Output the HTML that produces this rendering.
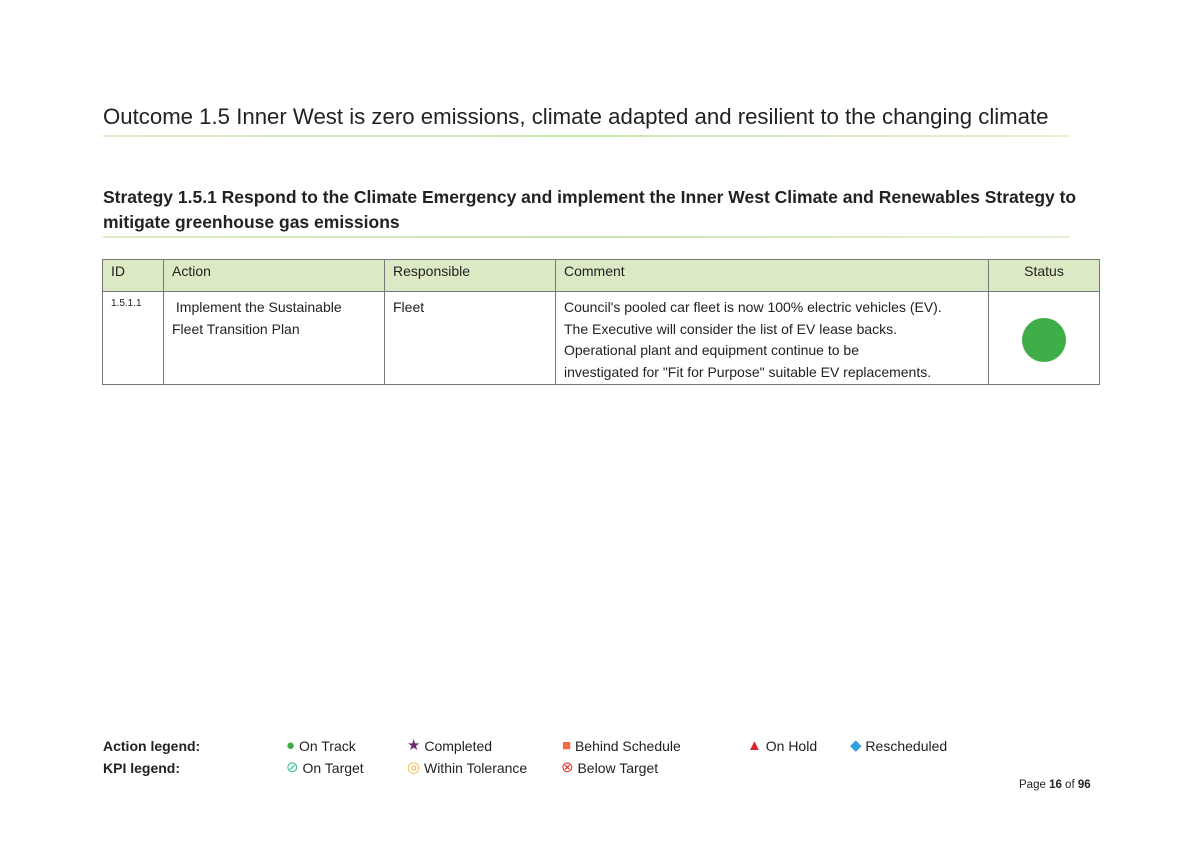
<!DOCTYPE html>
<html><head><style>
body{margin:0;width:1194px;height:844px;background:#fff;font-family:"Liberation Sans",sans-serif;color:#222;position:relative;overflow:hidden}
.a{position:absolute;white-space:nowrap}
.h1{left:103px;top:104px;font-size:22.2px}
.line{position:absolute;height:2px;background:linear-gradient(90deg,#dbeccb,#c9e4ae,#e4f1d7)}
.h2{left:103px;top:185px;font-size:17.5px;font-weight:bold;line-height:25px}
table{position:absolute;left:102px;top:259px;border-collapse:collapse;font-size:14px;table-layout:fixed;width:997px}
td{border:1px solid #777;vertical-align:top;padding:3px 8px}
tr.hd td{background:#dbe9c5;height:25px}
tr.bd td{height:77px;line-height:21.5px;padding-top:5px;padding-bottom:1px}
.lg{font-size:14px;line-height:18px}
.lg span{font-size:15px;line-height:18px;display:inline-block;vertical-align:top}
</style></head><body>
<div class="a h1">Outcome 1.5 Inner West is zero emissions, climate adapted and resilient to the changing climate</div>
<div class="line" style="left:103px;top:135px;width:967px"></div>
<div class="a h2">Strategy 1.5.1 Respond to the Climate Emergency and implement the Inner West Climate and Renewables Strategy to<br>mitigate greenhouse gas emissions</div>
<div class="line" style="left:103px;top:236px;width:967px"></div>
<table>
<colgroup><col style="width:61px"><col style="width:221px"><col style="width:171px"><col style="width:433px"><col style="width:111px"></colgroup>
<tr class="hd"><td>ID</td><td>Action</td><td>Responsible</td><td>Comment</td><td style="text-align:center">Status</td></tr>
<tr class="bd"><td style="font-size:10px;line-height:14px">1.5.1.1</td><td>&nbsp;Implement the Sustainable<br>Fleet Transition Plan</td><td>Fleet</td><td>Council's pooled car fleet is now 100% electric vehicles (EV).<br>The Executive will consider the list of EV lease backs.<br>Operational plant and equipment continue to be<br>investigated for "Fit for Purpose" suitable EV replacements.</td><td style="vertical-align:middle"><div style="width:44px;height:44px;border-radius:50%;background:#3fae49;margin:0 auto"></div></td></tr>
</table>
<div class="a lg" style="left:103px;top:737px;font-weight:bold">Action legend:</div>
<div class="a lg" style="left:103px;top:759px;font-weight:bold">KPI legend:</div>
<div class="a lg" style="left:286px;top:737px"><span style="color:#3fae49">●</span> On Track</div>
<div class="a lg" style="left:407px;top:737px"><span style="color:#6b2a6b">★</span> Completed</div>
<div class="a lg" style="left:562px;top:737px"><span style="color:#f26a3f">■</span> Behind Schedule</div>
<div class="a lg" style="left:747px;top:737px"><span style="color:#d9262b">▲</span> On Hold</div>
<div class="a lg" style="left:850px;top:737px"><span style="color:#2f9fe0">◆</span> Rescheduled</div>
<div class="a lg" style="left:286px;top:759px"><span style="color:#3fbf8f">⊘</span> On Target</div>
<div class="a lg" style="left:407px;top:759px"><span style="color:#f5b83a">◎</span> Within Tolerance</div>
<div class="a lg" style="left:561px;top:759px"><span style="color:#e53935">⊗</span> Below Target</div>
<div class="a" style="left:1019px;top:779px;font-size:11.5px">Page <b>16</b> of <b>96</b></div>
</body></html>
